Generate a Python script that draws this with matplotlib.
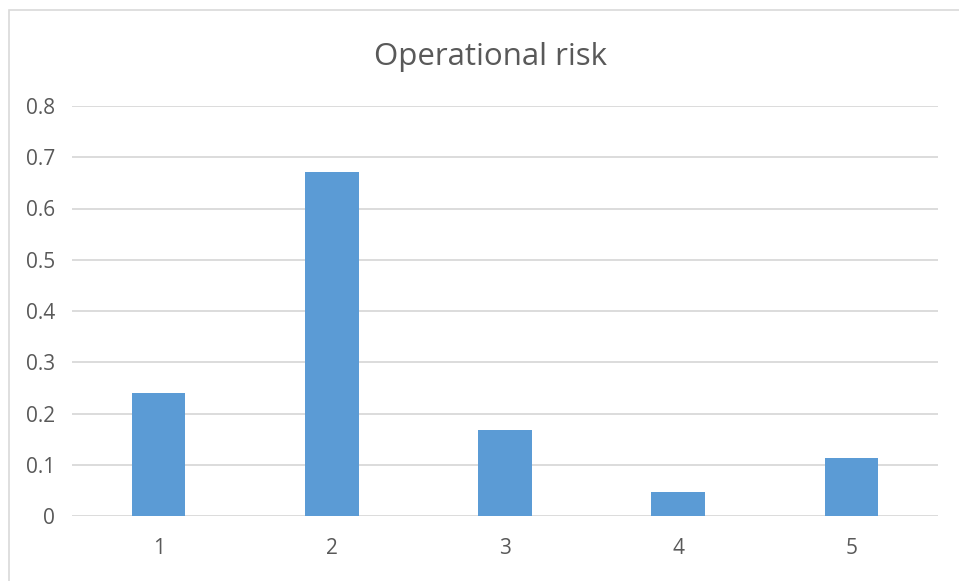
import matplotlib
matplotlib.use("Agg")
import matplotlib.pyplot as plt
from matplotlib.patches import Rectangle

categories = ["1", "2", "3", "4", "5"]
values = [0.24, 0.671, 0.168, 0.047, 0.114]
yticks = [0, 0.1, 0.2, 0.3, 0.4, 0.5, 0.6, 0.7, 0.8]
ytick_labels = ["0", "0.1", "0.2", "0.3", "0.4", "0.5", "0.6", "0.7", "0.8"]
title = "Operational risk"

plt.rcParams["font.family"] = ["Open Sans", "DejaVu Sans"]
text_color = "#595959"
grid_color = "#D9D9D9"
bar_color = "#5B9BD5"

fig = plt.figure(figsize=(9.59, 5.81), dpi=100)
fig.patch.set_facecolor("white")

# chart-area border (top and left edges visible, rest runs off the canvas)
fig.add_artist(Rectangle((9 / 959, -0.1), 1.2, 1 - 10 / 581 + 0.1,
                         transform=fig.transFigure, fill=False,
                         edgecolor="#D9D9D9", linewidth=1.2))

ax = fig.add_axes([72 / 959, 1 - 516 / 581, (938 - 72) / 959, (516 - 106) / 581])
x = list(range(len(categories)))
ax.bar(x, values, width=0.31, color=bar_color, zorder=3)

ax.set_xlim(-0.5, len(categories) - 0.5)
ax.set_ylim(0, 0.8)
ax.set_yticks(yticks)
ax.set_yticklabels(ytick_labels)
ax.set_xticks(x)
ax.set_xticklabels(categories)

for s in ax.spines.values():
    s.set_visible(False)
ax.yaxis.grid(True, color=grid_color, linewidth=1.3, zorder=0)
ax.set_axisbelow(True)
ax.tick_params(axis="both", length=0, labelsize=15, labelcolor=text_color)
ax.tick_params(axis="y", pad=12)
ax.tick_params(axis="x", pad=16)

fig.text(490 / 959, 1 - 65 / 581, title, ha="center", va="baseline",
         fontsize=22.5, color=text_color)

fig.savefig("out.png", dpi=100, facecolor="white")
